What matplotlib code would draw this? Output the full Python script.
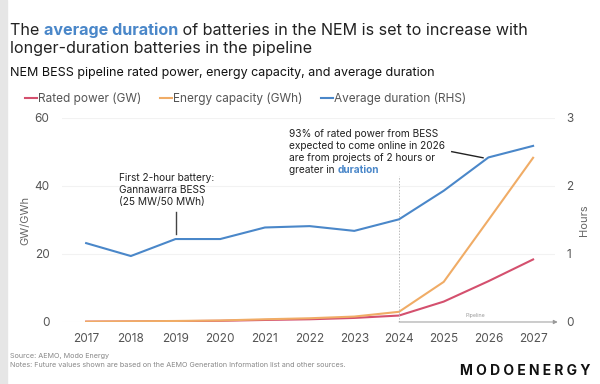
import matplotlib
matplotlib.use("Agg")
import matplotlib.pyplot as plt

plt.rcParams['font.family'] = ['Inter', 'DejaVu Sans']

# data
years = [2017, 2018, 2019, 2020, 2021, 2022, 2023, 2024, 2025, 2026, 2027]
rated_power = [0.1, 0.15, 0.25, 0.35, 0.6, 0.8, 1.2, 1.9, 6.0, 12.0, 18.4]
energy_capacity = [0.1, 0.2, 0.3, 0.45, 0.8, 1.1, 1.6, 3.0, 11.8, 30.0, 48.3]
avg_duration = [1.16, 0.97, 1.22, 1.22, 1.39, 1.41, 1.34, 1.51, 1.93, 2.42, 2.59]

RED = '#d4506e'
ORANGE = '#f0ac66'
BLUE = '#4a87c9'

fig = plt.figure(figsize=(6, 3.84), dpi=100)
fig.patches.append(plt.Rectangle((0, 0), 7/600, 1, transform=fig.transFigure,
                                 color='#e6e6e6', zorder=0))

ax = fig.add_axes([62/600, 62/384, 493/600, 204/384])
ax2 = ax.twinx()

ax.plot(years, rated_power, color=RED, lw=1.5, label='Rated power (GW)')
ax.plot(years, energy_capacity, color=ORANGE, lw=1.5, label='Energy capacity (GWh)')
ax2.plot(years, avg_duration, color=BLUE, lw=1.5, label='Average duration (RHS)')

ax.set_xlim(2016.46, 2027.49)
ax.set_ylim(0, 60)
ax2.set_ylim(0, 3)
ax.set_xticks(years)
ax.set_yticks([0, 20, 40, 60])
ax2.set_yticks([0, 1, 2, 3])
ax.grid(axis='y', color='#f2f2f2', lw=0.8)
for a in (ax, ax2):
    for s in a.spines.values():
        s.set_visible(False)
    a.tick_params(length=0, labelsize=8.5, labelcolor='#555555')
ax.tick_params(axis='x', pad=8)
ax.tick_params(axis='y', pad=9)
ax2.tick_params(axis='y', pad=8)
ax.set_ylabel('GW/GWh', fontsize=8, color='#666666', labelpad=3)
ax2.set_ylabel('Hours', fontsize=8, color='#666666', labelpad=4)

# pipeline marker
ax.plot([2024, 2024], [0, 42.9], color='#bbbbbb', lw=0.7, ls=(0, (1.5, 1.5)))
ax.annotate('', xy=(2027.55, 0), xytext=(2024, 0), annotation_clip=False,
            arrowprops=dict(arrowstyle='-|>', color='#999999', lw=0.7,
                            mutation_scale=6, shrinkA=0, shrinkB=0))
ax.text(2025.7, 1.4, 'Pipeline', fontsize=3.8, color='#999999', ha='center')

# annotation: first 2-hour battery
ax.text(2017.74, 43.7, 'First 2-hour battery:\nGannawarra BESS\n(25 MW/50 MWh)',
        fontsize=7.3, color='#222222', va='top', ha='left', linespacing=1.25)
ax.plot([2019, 2019], [25.8, 32.4], color='#444444', lw=1.0)

# annotation: 93% of rated power
t = ax.text(2021.54, 56.7,
            '93% of rated power from BESS\nexpected to come online in 2026\n'
            'are from projects of 2 hours or',
            fontsize=7.3, color='#222222', va='top', ha='left', linespacing=1.25)
t4 = ax.annotate('greater in ', xy=(0, 0), xycoords=t, xytext=(0, -1.6),
                 textcoords='offset points', va='top', ha='left',
                 fontsize=7.3, color='#222222')
ax.annotate('duration', xy=(1, 0), xycoords=t4, va='bottom', ha='left',
            fontsize=7.3, color=BLUE, fontweight='bold')
ax.plot([2025.18, 2025.88], [50.1, 48.3], color='#222222', lw=1.0)

# legend
h1, l1 = ax.get_legend_handles_labels()
h2, l2 = ax2.get_legend_handles_labels()
fig.legend(h1 + h2, l1 + l2, loc='center left', bbox_to_anchor=(20/600, 1 - 99/384),
           ncol=3, frameon=False, fontsize=8.5, handlelength=1.0, handletextpad=0.1,
           columnspacing=1.6, labelcolor='#555555', borderaxespad=0)

# title, mixed colours
TS = 11.6
a = fig.text(10/600, 1 - 38/384, 'The ', fontsize=TS, color='#222222', va='bottom')
b = plt.annotate('average duration', xy=(1, 0), xycoords=a, va='bottom', ha='left',
                 fontsize=TS, color=BLUE, fontweight='bold')
plt.annotate(' of batteries in the NEM is set to increase with', xy=(1, 0), xycoords=b,
             va='bottom', ha='left', fontsize=TS, color='#222222')
fig.text(10/600, 1 - 56/384, 'longer-duration batteries in the pipeline',
         fontsize=TS, color='#222222', va='bottom')
fig.text(10/600, 1 - 73/384, 'NEM BESS pipeline rated power, energy capacity, and average duration',
         fontsize=9, color='#111111', va='center')

# footer
fig.text(10/600, 1 - 356/384, 'Source: AEMO, Modo Energy', fontsize=5.2, color='#888888', va='center')
fig.text(10/600, 1 - 365/384,
         'Notes: Future values shown are based on the AEMO Generation Information list and other sources.',
         fontsize=5.2, color='#888888', va='center')
fig.text(591/600, 1 - 371/384, 'M O D O E N E R G Y', fontsize=10, fontweight='bold',
         color='#111111', ha='right', va='center')

fig.savefig('out.png', dpi=100)
